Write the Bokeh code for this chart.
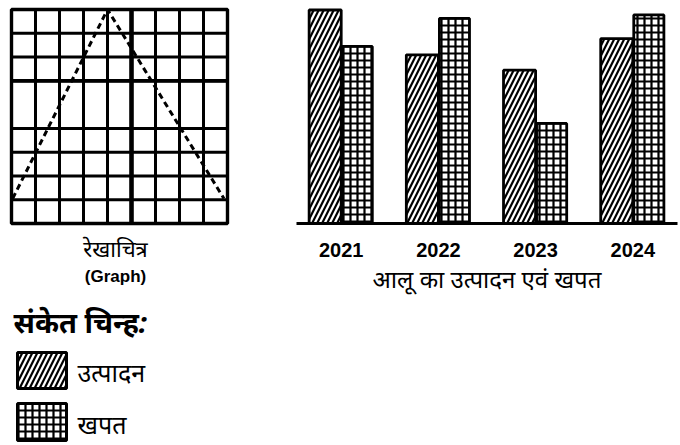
from bokeh.plotting import figure
from bokeh.layouts import row, column
from bokeh.models import Range1d, FixedTicker, ColumnDataSource
from bokeh.core.properties import value
from bokeh.embed import file_html
from bokeh.resources import INLINE

# ---- data ----
graph_x = [0.05, 4.0, 8.85]
graph_y = [1.05, 9.0, 1.05]
grid_minor = [1, 2, 3, 4, 6, 7, 8]
grid_major_x = [5]
grid_major_y = [6]

years = ["2021", "2022", "2023", "2024"]
year_pos = [0, 1, 2, 3]
production = [30.5, 24.1, 21.9, 26.4]
consumption = [25.3, 29.3, 14.3, 29.8]

graph_title = "रेखाचित्र"
graph_sub = "(Graph)"
legend_title = "संकेत चिन्ह:"
legend_labels = ["उत्पादन", "खपत"]
x_title = "आलू का उत्पादन एवं खपत"

DEV = "Noto Sans"
H = 445


def Y(px):
    """page pixel (from top) -> left-panel y coordinate (from bottom)"""
    return H - px


# ---- left panel ----
L = figure(width=290, height=H, x_range=Range1d(0, 290), y_range=Range1d(0, H),
           x_axis_type=None, y_axis_type=None, output_backend="svg",
           toolbar_location=None, min_border_left=0, min_border_right=0,
           min_border_top=0, min_border_bottom=0)
L.outline_line_color = None
L.background_fill_color = "white"
L.border_fill_color = "white"
ux = 216 / 9
uy = 214 / 9
L.extra_x_ranges = {"gx": Range1d(-11 / ux, 9 + (290 - 227) / ux)}
L.extra_y_ranges = {"gy": Range1d(-(H - 223) / uy, 9 + 9 / uy)}

GR = dict(x_range_name="gx", y_range_name="gy")
n = len(grid_minor)
L.segment(x0=grid_minor, y0=[0] * n, x1=grid_minor, y1=[9] * n,
          line_color="black", line_width=3, **GR)
L.segment(x0=[0] * n, y0=grid_minor, x1=[9] * n, y1=grid_minor,
          line_color="black", line_width=3, **GR)
L.segment(x0=grid_major_x, y0=[0], x1=grid_major_x, y1=[9],
          line_color="black", line_width=4.6, **GR)
L.segment(x0=[0], y0=grid_major_y, x1=[9], y1=grid_major_y,
          line_color="black", line_width=3.8, **GR)
L.quad(left=[0], right=[9], bottom=[0], top=[9], fill_color=None,
       line_color="black", line_width=3.4, **GR)
L.line(graph_x, graph_y, line_color="black", line_width=3, line_dash="6 4", **GR)

L.text(x=[115], y=[Y(247)], text=[graph_title], text_font=value(DEV),
       text_font_size="22px", text_align="center", text_baseline="middle")
L.text(x=[115], y=[Y(276)], text=[graph_sub], text_font=value("Liberation Sans"),
       text_font_size="17px", text_font_style="bold", text_align="center",
       text_baseline="middle")
L.text(x=[13], y=[Y(321)], text=[legend_title], text_font=value(DEV),
       text_font_size="29px", text_font_style="bold italic", text_align="left",
       text_baseline="middle")
L.quad(left=[17], right=[66], top=[Y(352)], bottom=[Y(388)], fill_color="white",
       line_color="black", line_width=3, hatch_pattern="/", hatch_color="black",
       hatch_scale=10, hatch_weight=2.2)
L.quad(left=[17], right=[66], top=[Y(403)], bottom=[Y(440)], fill_color="white",
       line_color="black", line_width=3, hatch_pattern="+", hatch_color="black",
       hatch_scale=7, hatch_weight=2.2)
L.text(x=[77, 77], y=[Y(371), Y(423)], text=legend_labels, text_font=value(DEV),
       text_font_size="25px", text_font_style="italic", text_align="left",
       text_baseline="middle")

# ---- bar chart ----
src = ColumnDataSource(dict(
    xp=[p - 0.165 for p in year_pos], xc=[p + 0.165 for p in year_pos],
    prod=production, cons=consumption))
b = figure(width=390, height=H, x_range=Range1d(-0.46, 3.46),
           y_range=Range1d(0, 31.14), output_backend="svg", toolbar_location=None,
           min_border_left=6, min_border_right=3, min_border_top=5,
           min_border_bottom=222)
b.outline_line_color = None
b.grid.visible = False
b.yaxis.visible = False
b.vbar(x="xp", top="prod", width=0.33, source=src, fill_color="white",
       line_color="black", line_width=2.8, hatch_pattern="/", hatch_color="black",
       hatch_scale=10, hatch_weight=2.2)
b.vbar(x="xc", top="cons", width=0.31, source=src, fill_color="white",
       line_color="black", line_width=2.8, hatch_pattern="+", hatch_color="black",
       hatch_scale=7, hatch_weight=2.2)
ax = b.xaxis[0]
ax.ticker = FixedTicker(ticks=year_pos)
ax.major_label_overrides = {p: y for p, y in zip(year_pos, years)}
ax.axis_line_width = 3.2
ax.axis_line_color = "black"
ax.major_tick_line_color = None
ax.minor_tick_line_color = None
ax.major_label_standoff = 13
ax.major_label_text_font = "Liberation Sans"
ax.major_label_text_font_style = "bold"
ax.major_label_text_font_size = "20px"
ax.major_label_text_color = "black"
ax.axis_label = x_title
ax.axis_label_text_font = DEV
ax.axis_label_text_font_style = "normal"
ax.axis_label_text_font_size = "24px"
ax.axis_label_text_color = "black"
ax.axis_label_standoff = 2

layout = row(column(L), b)
open("out.html", "w").write(file_html(layout, INLINE))
